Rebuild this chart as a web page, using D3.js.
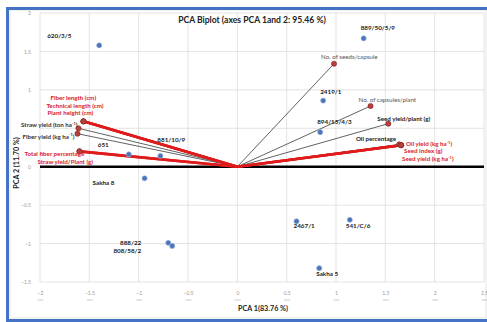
<!DOCTYPE html>
<html>
<head>
<meta charset="utf-8">
<script src="https://cdn.jsdelivr.net/npm/d3@7"></script>
<style>
  html, body { margin: 0; padding: 0; background: #fff; }
  svg { display: block; }
  text { font-family: Lato, "Open Sans", sans-serif; }
</style>
</head>
<body>
<svg id="chart" width="487" height="322"></svg>
<script>
// Genotype scores on the first two principal components
const genotypes = ["620/3/5", "889/50/5/9", "2419/1", "894/15/4/3", "651", "881/10/9",
                   "Sakha 8", "888/22", "808/58/2", "2467/1", "541/C/6", "Sakha 5"];
const genoPC1 = [-1.40, 1.28, 0.87, 0.84, -1.10, -0.78, -0.94, -0.70, -0.66, 0.60, 1.14, 0.83];
const genoPC2 = [1.58, 1.67, 0.86, 0.45, 0.16, 0.14, -0.15, -0.99, -1.03, -0.71, -0.69, -1.32];

// Trait loadings (vectors from the origin)
const traits = ["No. of seeds/capsule", "No. of capsules/plant", "Seed yield/plant (g)",
                "Oil percentage", "Oil yield (kg ha⁻¹)", "Seed index (g)", "Seed yield (kg ha⁻¹)",
                "Fiber length (cm)", "Technical length  (cm)", "Plant height (cm)",
                "Straw yield (ton ha⁻¹)", "Fiber yield (kg ha⁻¹)",
                "Total fiber percentage", "Straw yield/Plant (g)"];
const traitPC1 = [0.98, 1.35, 1.53, 1.64, 1.66, 1.66, 1.66, -1.56, -1.56, -1.56, -1.61, -1.62, -1.60, -1.60];
const traitPC2 = [1.34, 0.79, 0.56, 0.29, 0.28, 0.28, 0.28, 0.59, 0.59, 0.59, 0.50, 0.43, 0.20, 0.20];
// Traits drawn with the heavy red vector
const highlighted = ["Oil yield (kg ha⁻¹)", "Seed index (g)", "Seed yield (kg ha⁻¹)",
                     "Fiber length (cm)", "Technical length  (cm)", "Plant height (cm)",
                     "Total fiber percentage", "Straw yield/Plant (g)"];

const xTicks = [-2, -1.5, -1, -0.5, 0, 0.5, 1, 1.5, 2, 2.5];
const yTicks = [-1.5, -1, -0.5, 0, 0.5, 1, 1.5, 2];

const title = "PCA Biplot (axes PCA 1and 2: 95.46 %)";
const xTitle = "PCA 1(83.76 %)";
const yTitle = "PCA 2 (11.70 %)";

// ---- layout: label offsets (px) from each mark ----
const genoLabelOffset = {
  "620/3/5": [-52, -7, "start"], "889/50/5/9": [-3, -8, "start"], "2419/1": [-3, -7, "start"],
  "894/15/4/3": [-3, -8, "start"], "651": [-31, -7, "start"], "881/10/9": [-3, -14, "start"],
  "Sakha 8": [-52, 7, "start"], "888/22": [-27, 2, "end"], "808/58/2": [-31, 7, "end"],
  "2467/1": [-3, 7, "start"], "541/C/6": [-4, 8, "start"], "Sakha 5": [-3, 8, "start"]
};
const traitLabelStyle = {
  "No. of seeds/capsule": [-13, -5, "start", "#555", 400],
  "No. of capsules/plant": [-12, -4, "start", "#555", 400],
  "Seed yield/plant (g)": [-11, -3, "start", "#222", 700],
  "Oil percentage": [-3, -3, "end", "#222", 700],
  "Oil yield (kg ha⁻¹)": [5, 1, "start", "#d8232a", 700],
  "Seed index (g)": [3, 8, "start", "#d8232a", 700],
  "Seed yield (kg ha⁻¹)": [1, 16, "start", "#d8232a", 700],
  "Fiber length (cm)": [-33, -21, "start", "#d8232a", 700],
  "Technical length  (cm)": [-37, -13, "start", "#d8232a", 700],
  "Plant height (cm)": [-36, -6, "start", "#d8232a", 700],
  "Straw yield (ton ha⁻¹)": [-1, -1, "end", "#333", 700],
  "Fiber yield (kg ha⁻¹)": [-3, 5, "end", "#333", 700],
  "Total fiber percentage": [-55, 5, "start", "#d8232a", 700],
  "Straw yield/Plant (g)": [-42, 13, "start", "#d8232a", 700]
};

const svg = d3.select("#chart");

// frame
svg.append("rect").attr("x", 10).attr("y", 10).attr("width", 476).attr("height", 308)
  .attr("fill", "none").attr("stroke", "#e4e4e4").attr("stroke-width", 1);
svg.append("rect").attr("x", 6).attr("y", 7).attr("width", 481).attr("height", 3).attr("fill", "#4472c4");
svg.append("rect").attr("x", 6).attr("y", 7).attr("width", 3).attr("height", 315).attr("fill", "#4472c4");
svg.append("rect").attr("x", 6).attr("y", 319).attr("width", 481).attr("height", 3).attr("fill", "#4472c4");

const x = d3.scaleLinear().domain([-2, 2.5]).range([40, 484]);
const y = d3.scaleLinear().domain([-1.5, 2]).range([282, 13]);

// grid
const grid = svg.append("g").attr("stroke", "#dcdcdc").attr("stroke-width", 0.8);
grid.selectAll("line.v").data(xTicks).join("line")
  .attr("x1", d => x(d)).attr("x2", d => x(d)).attr("y1", y(2)).attr("y2", y(-1.5));
grid.selectAll("line.h").data(yTicks).join("line")
  .attr("x1", x(-2)).attr("x2", x(2.5)).attr("y1", d => y(d)).attr("y2", d => y(d));

// axes (labels only); the 0.5 label sits under the "Straw yield" trait label, so it is left blank
const yAxis = svg.append("g").attr("transform", `translate(${x(-2) - 6},0)`)
  .call(d3.axisLeft(y).tickValues(yTicks).tickSize(0).tickFormat(d => d === 0.5 ? "" : d3.format("")(d)));
yAxis.select(".domain").remove();
yAxis.selectAll("text").attr("fill", "#999").attr("font-size", 5).attr("font-family", "Lato, sans-serif");

const xAxis = svg.append("g").attr("transform", `translate(0,${y(-1.5) + 5})`)
  .call(d3.axisBottom(x).tickValues(xTicks).tickSize(0).tickFormat(d3.format("")));
xAxis.select(".domain").remove();
xAxis.selectAll("text").attr("fill", "#999").attr("font-size", 5).attr("font-family", "Lato, sans-serif")
  .attr("dy", "0.9em");
xAxis.selectAll(".tick").append("line")
  .attr("x1", -3).attr("x2", 3).attr("y1", 13).attr("y2", 13).attr("stroke", "#aaa").attr("stroke-width", 0.6);

// zero line
svg.append("line").attr("x1", x(-2)).attr("x2", x(2.5)).attr("y1", y(0)).attr("y2", y(0))
  .attr("stroke", "#000").attr("stroke-width", 2.6);

// trait vectors: thin ones first, red ones on top
const traitData = traits.map((t, i) => ({ name: t, pc1: traitPC1[i], pc2: traitPC2[i], red: highlighted.includes(t) }));
const vec = svg.append("g");
vec.selectAll("line").data(traitData.filter(d => !d.red).concat(traitData.filter(d => d.red))).join("line")
  .attr("x1", x(0)).attr("y1", y(0))
  .attr("x2", d => x(d.pc1)).attr("y2", d => y(d.pc2))
  .attr("stroke", d => d.red ? "#e01b1b" : "#3a3a3a")
  .attr("stroke-width", d => d.red ? 2.6 : 0.8);
vec.selectAll("circle").data(traitData).join("circle")
  .attr("cx", d => x(d.pc1)).attr("cy", d => y(d.pc2)).attr("r", 2.6)
  .attr("fill", "#b8403c").attr("stroke", "#7d2624").attr("stroke-width", 0.6);

// genotype points
const genoData = genotypes.map((g, i) => ({ name: g, pc1: genoPC1[i], pc2: genoPC2[i] }));
svg.append("g").selectAll("circle").data(genoData).join("circle")
  .attr("cx", d => x(d.pc1)).attr("cy", d => y(d.pc2)).attr("r", 2.6)
  .attr("fill", "#4a74b8").attr("stroke", "#a9bddf").attr("stroke-width", 0.6);

svg.append("g").selectAll("text").data(genoData).join("text")
  .attr("x", d => x(d.pc1) + genoLabelOffset[d.name][0])
  .attr("y", d => y(d.pc2) + genoLabelOffset[d.name][1])
  .attr("text-anchor", d => genoLabelOffset[d.name][2])
  .attr("font-size", 6.3).attr("font-weight", 700).attr("fill", "#222")
  .text(d => d.name);

// trait labels; "⁻¹" is set as a small raised "-1"
const traitText = svg.append("g").selectAll("text").data(traitData).join("text")
  .attr("x", d => x(d.pc1) + traitLabelStyle[d.name][0])
  .attr("y", d => y(d.pc2) + traitLabelStyle[d.name][1])
  .attr("text-anchor", d => traitLabelStyle[d.name][2])
  .attr("fill", d => traitLabelStyle[d.name][3])
  .attr("font-weight", d => traitLabelStyle[d.name][4])
  .attr("font-size", 6.2);
traitText.each(function (d) {
  const t = d3.select(this);
  const parts = d.name.split("⁻¹");
  t.append("tspan").text(parts[0]);
  if (parts.length > 1) {
    t.append("tspan").attr("font-size", 4).attr("dy", -2.2).text("-1");
    t.append("tspan").attr("dy", 2.2).text(parts[1]);
  }
});

// titles
svg.append("text").attr("x", 252).attr("y", 23).attr("text-anchor", "middle")
  .attr("font-size", 8.6).attr("font-weight", 700).attr("fill", "#222").text(title);
svg.append("text").attr("x", 263).attr("y", 311).attr("text-anchor", "middle")
  .attr("font-size", 7.2).attr("font-weight", 700).attr("fill", "#222").text(xTitle);
svg.append("text").attr("transform", "translate(19,163) rotate(-90)").attr("text-anchor", "middle")
  .attr("font-size", 7.2).attr("font-weight", 700).attr("fill", "#222").text(yTitle);
</script>
</body>
</html>
